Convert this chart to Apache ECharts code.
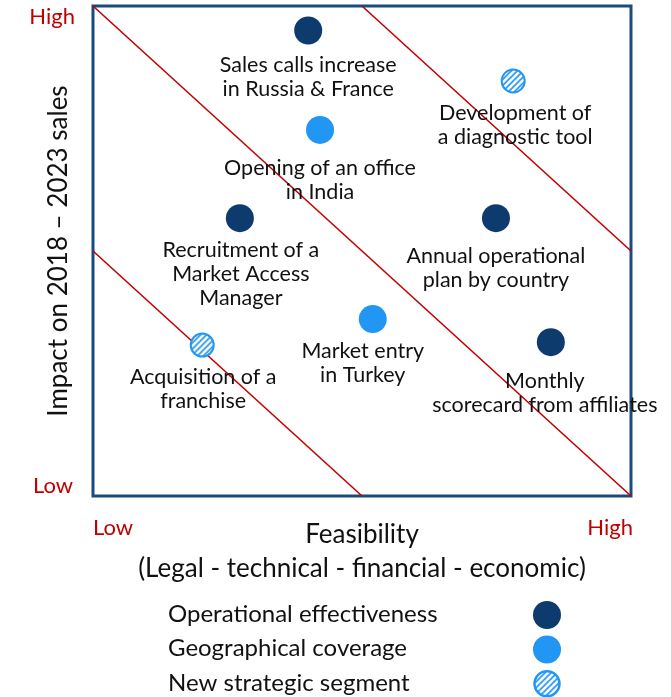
<!DOCTYPE html>
<html>
<head>
<meta charset="utf-8">
<script src="https://cdn.jsdelivr.net/npm/echarts@6/dist/echarts.min.js"></script>
<style>
  html, body { margin: 0; padding: 0; background: #fff; }
  #chart { width: 671px; height: 697px; }
</style>
</head>
<body>
<div id="chart"></div>
<script>
// 数据：可行性 (x) 与 影响 (y)，0-100 的相对刻度
const operational = [
  { name: 'Sales calls increase\nin Russia & France', x: 40, y: 95 },
  { name: 'Recruitment of a\nMarket Access\nManager', x: 27.3, y: 56.7 },
  { name: 'Annual operational\nplan by country', x: 74.9, y: 56.7 },
  { name: 'Monthly\nscorecard from affiliates', x: 85.1, y: 31.4 }
];
const geographical = [
  { name: 'Opening of an office\nin India', x: 42.2, y: 74.7 },
  { name: 'Market entry\nin Turkey', x: 52, y: 36.1 }
];
const strategic = [
  { name: 'Development of\na diagnostic tool', x: 78.1, y: 84.7 },
  { name: 'Acquisition of a\nfranchise', x: 20.3, y: 30.8 }
];
const seriesNames = ['Operational effectiveness', 'Geographical coverage', 'New strategic segment'];

// 分界线 (对角线)
const boundaries = [
  [[0, 100], [100, 0]],
  [[50, 100], [100, 50]],
  [[0, 50], [50, 0]]
];

const xTitle = 'Feasibility\n(Legal - technical - financial - economic)';
const yTitle = 'Impact on 2018 \u2013 2023 sales';

// 颜色
const DARK = '#0D3B6E';
const LIGHT = '#2196F3';
const RED = '#C00000';
const FONT = 'Lato, "Open Sans", sans-serif';
const HATCH_SIZE = 23;

// 个别标签的微调
const labelShift = {
  'Sales calls increase\nin Russia & France': [0, 0],
  'Recruitment of a\nMarket Access\nManager': [1, -3],
  'Annual operational\nplan by country': [0, 3],
  'Monthly\nscorecard from affiliates': [-6, 4],
  'Opening of an office\nin India': [0, 3],
  'Market entry\nin Turkey': [-10, -3],
  'Development of\na diagnostic tool': [2, -1],
  'Acquisition of a\nfranchise': [1, -2]
};

// 斜线填充
const hatchCanvas = document.createElement('canvas');
hatchCanvas.width = 6;
hatchCanvas.height = 6;
(function () {
  const c = hatchCanvas.getContext('2d');
  c.fillStyle = '#fff';
  c.fillRect(0, 0, 6, 6);
  c.strokeStyle = LIGHT;
  c.lineWidth = 1.6;
  c.beginPath();
  c.moveTo(0, 6); c.lineTo(6, 0);
  c.moveTo(-1, 1); c.lineTo(1, -1);
  c.moveTo(5, 7); c.lineTo(7, 5);
  c.stroke();
})();
// 散点符号是按 symbolSize/2 缩放的，图案要反向缩放
const hatchFill = { image: hatchCanvas, repeat: 'repeat', scaleX: 2 / HATCH_SIZE, scaleY: 2 / HATCH_SIZE };
const hatchFillPlain = { image: hatchCanvas, repeat: 'repeat' };

const toPoints = (list) => list.map(p => ({
  value: [p.x, p.y],
  name: p.name,
  label: { offset: labelShift[p.name] || [0, 0] }
}));

const pointLabel = {
  show: true,
  position: 'bottom',
  distance: 9,
  formatter: '{b}',
  color: '#111',
  fontFamily: FONT,
  fontSize: 21.5,
  lineHeight: 24,
  align: 'center'
};

const chart = echarts.init(document.getElementById('chart'));

const option = {
  animation: false,
  grid: {
    left: 93, right: 40, top: 6, bottom: 201,
    show: true, borderColor: '#1B4A7E', borderWidth: 3,
    backgroundColor: 'transparent'
  },
  xAxis: {
    type: 'value', min: 0, max: 100,
    axisLine: { show: false }, axisTick: { show: false },
    axisLabel: { show: false }, splitLine: { show: false },
    name: xTitle, nameLocation: 'middle', nameGap: 22,
    nameTextStyle: { fontFamily: FONT, fontSize: 26, lineHeight: 34, color: '#111', verticalAlign: 'top' }
  },
  yAxis: {
    type: 'value', min: 0, max: 100,
    axisLine: { show: false }, axisTick: { show: false },
    axisLabel: { show: false }, splitLine: { show: false },
    name: yTitle, nameLocation: 'middle', nameGap: 21, nameRotate: 90,
    nameTextStyle: { fontFamily: FONT, fontSize: 26, color: '#111' }
  },
  series: boundaries.map(b => ({
    type: 'line', data: b, symbol: 'none', silent: true,
    lineStyle: { color: RED, width: 1.6 }, z: 1
  })).concat([
    {
      name: seriesNames[0], type: 'scatter', symbolSize: 28, z: 3,
      data: toPoints(operational),
      itemStyle: { color: DARK, opacity: 1 },
      label: pointLabel
    },
    {
      name: seriesNames[1], type: 'scatter', symbolSize: 28, z: 3,
      data: toPoints(geographical),
      itemStyle: { color: LIGHT, opacity: 1 },
      label: pointLabel
    },
    {
      name: seriesNames[2], type: 'scatter', symbolSize: HATCH_SIZE, z: 3,
      data: toPoints(strategic),
      itemStyle: { color: hatchFill, borderColor: LIGHT, borderWidth: 2, opacity: 1 },
      label: pointLabel
    }
  ]),
  graphic: [
    { type: 'text', right: 596, top: 6, style: { text: 'High', fill: RED, font: '22px ' + FONT } },
    { type: 'text', right: 598, top: 475, style: { text: 'Low', fill: RED, font: '22px ' + FONT } },
    { type: 'text', left: 93, top: 517, style: { text: 'Low', fill: RED, font: '22px ' + FONT } },
    { type: 'text', right: 38, top: 517, style: { text: 'High', fill: RED, font: '22px ' + FONT } }
  ].concat(seriesNames.map((n, i) => ({
    type: 'group', left: 168, top: 601 + i * 34.5,
    children: [
      { type: 'text', x: 0, y: 0, style: { text: n, fill: '#111', font: '24px ' + FONT } },
      i === 2
        ? { type: 'circle', shape: { cx: 379, cy: 12, r: 12.5 }, style: { fill: hatchFillPlain, stroke: LIGHT, lineWidth: 2.5 } }
        : { type: 'circle', shape: { cx: 379, cy: 13, r: 14 }, style: { fill: i === 0 ? DARK : LIGHT } }
    ]
  })))
};

chart.setOption(option);
</script>
</body>
</html>
